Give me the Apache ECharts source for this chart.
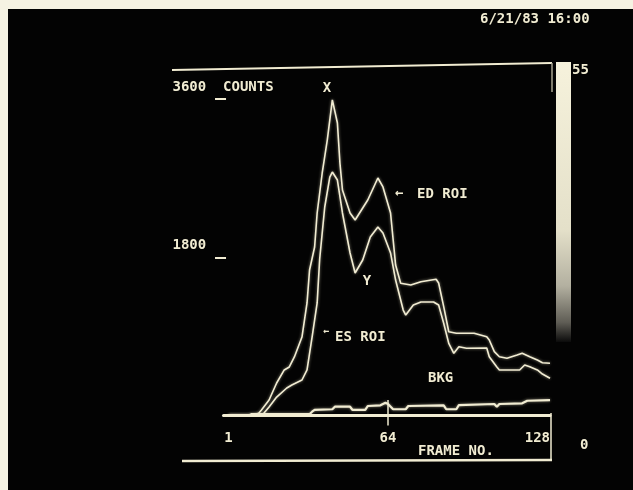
<!DOCTYPE html>
<html>
<head>
<meta charset="utf-8">
<script src="https://cdn.jsdelivr.net/npm/echarts@6/dist/echarts.min.js"></script>
<style>
  html, body { margin: 0; padding: 0; background: #000; }
  #chart { width: 633px; height: 490px; }
</style>
</head>
<body>
<div id="chart"></div>
<script>
// frame numbers and counts
const edFrames = [1, 11, 13, 14, 17, 20, 23, 25, 27, 30, 32, 33, 35, 36, 38, 40, 42, 44, 45, 46, 49, 51, 56, 60, 62, 65, 67, 69, 73, 77, 83, 84, 86, 88, 91, 98, 103, 104, 106, 108, 111, 115, 117, 120, 123, 125, 128]
const edCounts = [0, 0, 28, 63, 176, 370, 518, 552, 666, 893, 1280, 1655, 1917, 2304, 2759, 3134, 3590, 3328, 2873, 2565, 2304, 2224, 2452, 2702, 2600, 2304, 1712, 1504, 1485, 1522, 1550, 1507, 1238, 953, 935, 935, 896, 859, 726, 669, 651, 688, 708, 669, 631, 600, 594]

const esFrames = [1, 14, 15, 17, 20, 24, 26, 30, 32, 34, 36, 37, 39, 41, 42, 44, 46, 49, 51, 54, 57, 60, 62, 65, 67, 68, 70, 71, 74, 77, 82, 84, 86, 88, 90, 92, 95, 103, 104, 107, 108, 116, 118, 120, 123, 125, 128]
const esCounts = [0, 0, 28, 97, 210, 313, 347, 404, 518, 893, 1280, 1780, 2372, 2713, 2770, 2679, 2304, 1849, 1621, 1769, 2031, 2144, 2076, 1849, 1541, 1428, 1200, 1143, 1257, 1291, 1291, 1257, 1049, 821, 708, 783, 765, 768, 669, 552, 518, 518, 575, 555, 518, 472, 423]

const bkgFrames = [1, 9, 10, 33, 34, 35, 42, 43, 49, 50, 55, 56, 61, 63, 64, 66, 71, 72, 86, 87, 91, 92, 106, 107, 108, 117, 119, 128]
const bkgCounts = [0, 0, 15, 15, 43, 63, 71, 100, 100, 63, 63, 108, 116, 146, 131, 71, 71, 108, 116, 71, 71, 119, 131, 100, 131, 139, 168, 176]

const frameTicks = [1, 64, 128]
const countTicks = [1800, 3600]

const INK = '#f1ecd2'
const FONT = 'bold 14px "DejaVu Sans Mono", monospace'

const zip = (xs, ys) => xs.map((x, i) => [x, ys[i]])

const lineSeries = (name, xs, ys, width) => ({
  name,
  type: 'line',
  data: zip(xs, ys),
  symbol: 'none',
  silent: true,
  lineStyle: { color: INK, width, shadowBlur: 3, shadowColor: 'rgba(255,248,215,0.55)' },
})

const txt = (text, x, y, extra) => ({
  type: 'text',
  style: Object.assign({ text, x, y, fill: INK, font: FONT, textAlign: 'left', textVerticalAlign: 'middle' }, extra || {}),
})

const chart = echarts.init(document.getElementById('chart'), null, { renderer: 'canvas' })

chart.setOption({
  backgroundColor: '#030303',
  animation: false,
  grid: { left: 223.5, right: 83, top: 72.7, bottom: 74.5 },
  xAxis: {
    type: 'value',
    min: -1,
    max: 128,
    splitLine: { show: false },
    axisLine: { lineStyle: { color: INK, width: 3 } },
    axisTick: { customValues: [64], length: 10, lineStyle: { color: INK, width: 1.5 } },
    axisLabel: {
      customValues: frameTicks,
      color: INK,
      fontFamily: '"DejaVu Sans Mono", monospace',
      fontWeight: 'bold',
      fontSize: 14,
      margin: 16,
      alignMaxLabel: 'right',
    },
  },
  yAxis: {
    type: 'value',
    min: 0,
    max: 3900,
    splitLine: { show: false },
    axisLine: { show: false },
    axisTick: { customValues: countTicks, length: 11, lineStyle: { color: INK, width: 2 } },
    axisLabel: {
      customValues: countTicks,
      color: INK,
      fontFamily: '"DejaVu Sans Mono", monospace',
      fontWeight: 'bold',
      fontSize: 14,
      align: 'left',
      verticalAlign: 'bottom',
      margin: 51,
      padding: [0, 0, 5, 0],
      formatter: (v) => (v === 3600 ? '3600  COUNTS' : String(v)),
    },
  },
  series: [
    lineSeries('ED ROI', edFrames, edCounts, 1.6),
    lineSeries('ES ROI', esFrames, esCounts, 1.6),
    Object.assign(lineSeries('BKG', bkgFrames, bkgCounts, 2.2), {
      markLine: {
        silent: true,
        symbol: 'none',
        label: { show: false },
        lineStyle: { color: INK, width: 1.5, type: 'solid' },
        data: [[{ coord: [64, 0] }, { coord: [64, 175] }]],
      },
    }),
  ],
  graphic: [
    // paper edge of the photo
    { type: 'rect', shape: { x: 0, y: 0, width: 633, height: 9 }, style: { fill: '#f5f2e2' } },
    { type: 'rect', shape: { x: 0, y: 0, width: 8, height: 490 }, style: { fill: '#f5f2e2' } },
    // screen frame
    { type: 'line', shape: { x1: 172, y1: 70, x2: 552, y2: 63 }, style: { stroke: INK, lineWidth: 2 } },
    { type: 'line', shape: { x1: 552, y1: 63, x2: 552, y2: 92 }, style: { stroke: '#a9a591', lineWidth: 1.5 } },
    { type: 'line', shape: { x1: 182, y1: 461, x2: 552, y2: 460 }, style: { stroke: INK, lineWidth: 2.5 } },
    { type: 'line', shape: { x1: 551, y1: 413, x2: 551, y2: 460 }, style: { stroke: INK, lineWidth: 1.5 } },
    // grey scale bar
    {
      type: 'rect',
      shape: { x: 556, y: 62, width: 15, height: 280 },
      style: {
        fill: {
          type: 'linear', x: 0, y: 0, x2: 0, y2: 1,
          colorStops: [
            { offset: 0, color: '#f6f2dc' },
            { offset: 0.6, color: '#e4e0c9' },
            { offset: 0.8, color: '#b3b0a0' },
            { offset: 0.93, color: '#5f5d55' },
            { offset: 1, color: '#0b0b0b' },
          ],
        },
      },
    },
    txt('55', 572, 70),
    txt('0', 580, 445),
    txt('6/21/83 16:00', 480, 19),
    // annotations
    txt('X', 327, 88, { textAlign: 'center' }),
    txt('Y', 367, 281, { textAlign: 'center' }),
    txt('\u2190', 395, 193),
    txt('ED ROI', 417, 194),
    txt('\u2190', 323, 331, { font: 'bold 10px "DejaVu Sans Mono", monospace' }),
    txt('ES ROI', 335, 337),
    txt('BKG', 428, 378),
    txt('FRAME NO.', 418, 451),
  ],
})
</script>
</body>
</html>
